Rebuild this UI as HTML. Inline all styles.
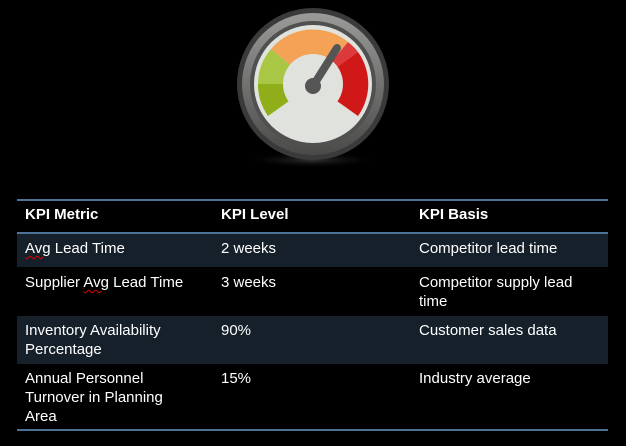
<!DOCTYPE html>
<html><head><meta charset="utf-8"><style>
body{margin:0;width:626px;height:446px;background:#000;overflow:hidden;font-family:"Liberation Sans",Arial,sans-serif;color:#fff;position:relative}
.t{position:absolute;font-size:15px;line-height:19px}
.b{font-weight:bold}
.row{position:absolute;left:17px;width:591px;background:#15202b}
.line{position:absolute;left:17px;width:591px;height:2px;background:#4d7297}
.sq{text-decoration:underline wavy #d00;text-decoration-thickness:1px;text-underline-offset:2px}
</style></head><body>
<svg style="position:absolute;left:0;top:0" width="626" height="180">
<defs><radialGradient id="sh"><stop offset="0" stop-color="#333"/><stop offset="1" stop-color="#000" stop-opacity="0"/></radialGradient>
<linearGradient id="ring" x1="0" y1="0" x2="0" y2="1"><stop offset="0" stop-color="#9a9a98"/><stop offset="1" stop-color="#4a4a48"/></linearGradient></defs>
<ellipse cx="312" cy="160" rx="70" ry="8" fill="url(#sh)"/>
<circle cx="313" cy="84" r="76" fill="#3a3a3a"/>
<circle cx="313" cy="84" r="71" fill="url(#ring)"/>
<circle cx="313" cy="84" r="63" fill="#505050"/>
<circle cx="313" cy="84" r="59" fill="#e0e2dd"/>
<path d="M313 84 L268 116 A55 55 0 0 1 258 84 Z" fill="#8fae1a"/>
<path d="M313 84 L258 84 A55 55 0 0 1 271 49 Z" fill="#a9c744"/>
<path d="M313 84 L271 49 A55 55 0 0 1 348 42 Z" fill="#f4a356"/>
<path d="M313 84 L348 42 A55 55 0 0 1 358 52 Z" fill="#dc3a3a"/>
<path d="M313 84 L358 52 A55 55 0 0 1 358 116 Z" fill="#d01818"/>
<circle cx="313" cy="84" r="30" fill="#e0e2dd"/>
<line x1="313" y1="86" x2="337" y2="48" stroke="#555" stroke-width="8" stroke-linecap="round"/>
<circle cx="313" cy="86" r="8" fill="#555"/>
</svg>
<div class="line" style="top:199px"></div>
<div class="t b" style="left:25px;top:205px">KPI Metric</div>
<div class="t b" style="left:221px;top:205px">KPI Level</div>
<div class="t b" style="left:419px;top:205px">KPI Basis</div>
<div class="row" style="top:234px;height:33px"></div>
<div class="line" style="top:232px"></div>
<div class="row" style="top:316px;height:48px"></div>
<div class="line" style="top:429px"></div>
<div class="t" style="left:25px;top:239px"><span class="sq">Avg</span> Lead Time</div>
<div class="t" style="left:221px;top:239px">2 weeks</div>
<div class="t" style="left:419px;top:239px">Competitor lead time</div>
<div class="t" style="left:25px;top:273px">Supplier <span class="sq">Avg</span> Lead Time</div>
<div class="t" style="left:221px;top:273px">3 weeks</div>
<div class="t" style="left:419px;top:273px;width:180px">Competitor supply lead time</div>
<div class="t" style="left:25px;top:321px;width:170px">Inventory Availability Percentage</div>
<div class="t" style="left:221px;top:321px">90%</div>
<div class="t" style="left:419px;top:321px">Customer sales data</div>
<div class="t" style="left:25px;top:369px;width:170px">Annual Personnel Turnover in Planning Area</div>
<div class="t" style="left:221px;top:369px">15%</div>
<div class="t" style="left:419px;top:369px">Industry average</div>
</body></html>
